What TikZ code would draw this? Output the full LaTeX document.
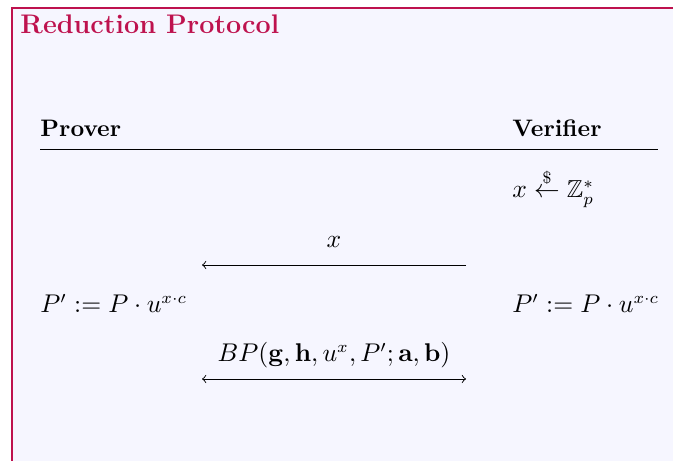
\documentclass[tikz,border=0pt]{standalone}
\usepackage{amsmath,amssymb}
\usetikzlibrary{positioning}
\definecolor{boxred}{RGB}{190,18,78}
\definecolor{boxbg}{RGB}{246,246,255}
\newcommand{\mathsize}{\fontsize{10.5}{12.5}\selectfont}
\tikzset{
  party/.style={anchor=base west,inner sep=0pt,font=\fontsize{10.2}{12}\selectfont\bfseries},
  step text/.style={anchor=base west,inner sep=0pt,font=\mathsize},
  msg/.style={midway,above=7.3pt,inner sep=0pt,text depth=0pt,font=\mathsize}
}

\begin{document}
\begin{tikzpicture}[x=0.4274pt,y=-0.4274pt,>=to]
  \useasboundingbox (0,0) rectangle (673,461);
  \clip (0,0) rectangle (673,461);
  % frame of the box (runs off to the right and bottom)
  \fill[white] (0,0) rectangle (673,461);
  \fill[boxbg] (12,8) rectangle (673,461);
  \draw[boxred,line width=0.9pt] (12,461) -- (12,8) -- (673,8);
  \node[anchor=base west,inner sep=0pt,text=boxred,font=\fontsize{11.5}{14}\selectfont\bfseries] (title) at (20,34) {Reduction Protocol};

  % the two parties
  \node[party] (prover) at (40,136.5) {Prover};
  \node[party] (verifier) at (512,136.5) {Verifier};
  \coordinate (ruleL) at (40,149);
  \coordinate (ruleR) at (658,149);
  \draw (ruleL) -- (ruleR);

  % verifier picks the challenge
  \node[step text] (chal) at (512,198) {$x \stackrel{\$}{\leftarrow} \mathbb{Z}_p^*$};

  % challenge sent to prover
  \coordinate (m1R) at (466,265);
  \coordinate (m1L) at (202,265);
  \draw[->] (m1R) -- node[msg] (m1lab) {$x$} (m1L);

  % both sides update P
  \node[step text] (updP) at (40,313) {$P' := P \cdot u^{x\cdot c}$};
  \node[step text] (updV) at (512,313) {$P' := P \cdot u^{x\cdot c}$};

  % run the inner protocol
  \coordinate (m2L) at (202,379);
  \coordinate (m2R) at (466,379);
  \draw[<->] (m2L) -- node[msg] (m2lab) {$BP(\mathbf{g},\mathbf{h},u^x,P';\mathbf{a},\mathbf{b})$} (m2R);
\end{tikzpicture}
\end{document}
